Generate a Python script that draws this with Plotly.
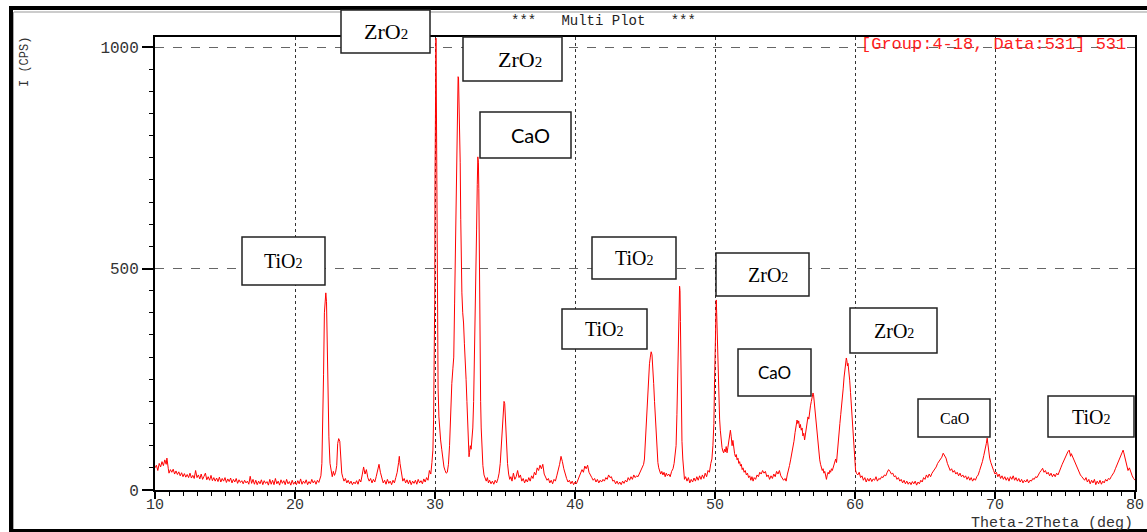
import plotly.graph_objects as go

# ---------------- data (2-theta in deg, intensity in CPS) ----------------
seg_10_22 = [(10.0,50),(10.1,56),(10.2,44),(10.3,60),(10.4,52),(10.5,64),(10.6,55),(10.7,68),(10.8,58),(10.85,72),
             (10.95,48),(11.0,38),(11.1,46),(11.2,40),(11.3,47),(11.4,36),(11.5,43),(11.6,35),(11.7,41),(11.8,32),
             (11.9,39),(12.0,30),(12.1,37),(12.2,29),(12.3,35),(12.4,28),(12.5,38),(12.6,27),(12.7,33),(12.8,26),
             (12.9,44),(13.0,28),(13.1,34),(13.2,25),(13.3,36),(13.4,24),(13.5,31),(13.6,38),(13.7,23),(13.8,30),
             (13.9,22),(14.0,33),(14.1,21),(14.2,28),(14.3,20),(14.4,27),(14.5,19),(14.6,29),(14.7,18),(14.8,26),
             (14.9,20),(15.0,28),(15.1,17),(15.2,25),(15.3,19),(15.4,27),(15.5,16),(15.6,24),(15.7,18),(15.8,26),
             (15.9,15),(16.0,23),(16.1,17),(16.2,21),(16.3,14),(16.4,22),(16.5,16),(16.6,20),(16.7,13),(16.8,31),
             (16.9,15),(17.0,24),(17.1,13),(17.2,22),(17.3,12),(17.4,20),(17.5,14),(17.6,23),(17.7,12),(17.8,21),
             (17.9,15),(18.0,19),(18.1,11),(18.2,24),(18.3,13),(18.4,22),(18.5,12),(18.6,26),(18.7,14),(18.8,20),
             (18.9,11),(19.0,23),(19.1,15),(19.2,21),(19.3,12),(19.4,24),(19.5,14),(19.6,19),(19.7,11),(19.8,22),
             (19.9,13),(20.0,18),(20.1,12),(20.2,21),(20.3,14),(20.4,25),(20.5,13),(20.6,20),(20.7,15),(20.8,23),
             (20.9,12),(21.0,19),(21.1,14),(21.2,24),(21.3,16),(21.4,21),(21.5,13),(21.6,22),(21.7,17),(21.8,25)]

seg_22_30 = [(21.85,32),(21.92,60),(21.98,130),(22.04,260),(22.1,400),(22.15,440),(22.2,445),(22.25,425),(22.3,330),
             (22.36,210),(22.42,120),(22.5,60),(22.58,40),(22.66,30),(22.74,42),(22.82,33),(22.9,40),(22.98,55),
             (23.05,105),(23.12,116),(23.2,110),(23.27,60),(23.34,38),(23.42,28),(23.5,20),(23.6,26),(23.7,16),
             (23.8,22),(23.9,14),(24.0,20),(24.1,12),(24.2,18),(24.3,14),(24.4,21),(24.5,13),(24.6,24),(24.7,18),
             (24.8,34),(24.9,52),(25.0,36),(25.1,46),(25.2,28),(25.3,20),(25.4,26),(25.5,16),(25.6,24),(25.7,18),
             (25.8,30),(25.9,42),(26.0,58),(26.1,40),(26.2,24),(26.3,16),(26.4,22),(26.5,13),(26.6,24),(26.7,15),
             (26.8,20),(26.9,12),(27.0,22),(27.1,16),(27.2,28),(27.3,40),(27.4,62),(27.45,76),(27.5,60),(27.6,36),
             (27.7,20),(27.8,26),(27.9,16),(28.0,23),(28.1,14),(28.2,22),(28.3,12),(28.4,20),(28.5,15),(28.6,22),
             (28.7,13),(28.8,24),(28.9,16),(29.0,21),(29.1,14),(29.2,25),(29.3,18),(29.4,28),(29.5,22),(29.6,44),
             (29.7,36),(29.78,62)]

seg_30_36 = [(29.85,90),(29.9,160),(29.95,280),(29.98,430),(30.0,700),(30.02,910),(30.04,1020),(30.07,1020),
             (30.09,930),(30.12,738),(30.15,520),(30.18,330),(30.22,230),(30.28,165),(30.34,125),(30.4,113),
             (30.48,92),(30.56,70),(30.64,52),(30.72,44),(30.8,38),(30.88,40),(30.96,58),(31.04,100),(31.12,180),
             (31.2,240),(31.28,275),(31.34,300),(31.4,420),(31.46,571),(31.52,700),(31.57,780),(31.61,880),
             (31.65,933),(31.68,930),(31.72,880),(31.76,812),(31.8,740),(31.84,610),(31.88,500),(31.92,445),
             (31.98,400),(32.04,377),(32.1,330),(32.16,300),(32.22,250),(32.28,200),(32.34,140),(32.4,95),
             (32.43,75),(32.47,85),(32.52,100),(32.58,92),(32.64,110),(32.7,140),(32.76,200),(32.82,290),
             (32.87,361),(32.92,460),(32.97,587),(33.02,690),(33.06,752),(33.1,740),(33.13,680),(33.16,520),
             (33.19,436),(33.22,300),(33.26,200),(33.3,140),(33.36,90),(33.42,55),(33.5,34),(33.58,26),(33.66,20),
             (33.74,28),(33.82,16),(33.9,22),(34.0,14),(34.1,20),(34.2,13),(34.3,22),(34.4,16),(34.5,26),(34.58,38),
             (34.66,60),(34.74,105),(34.82,160),(34.88,190),(34.93,200),(34.98,195),(35.04,150),(35.1,105),
             (35.18,60),(35.26,36),(35.34,24),(35.42,30),(35.5,20),(35.6,38),(35.7,24),(35.8,30),(35.9,44),(36.0,28)]

seg_36_50 = [(36.1,34),(36.2,20),(36.3,26),(36.4,16),(36.5,24),(36.6,18),(36.7,28),(36.8,20),(36.9,32),(37.0,26),
             (37.1,40),(37.2,34),(37.3,50),(37.4,44),(37.5,56),(37.6,48),(37.7,58),(37.8,36),(37.9,30),(38.0,22),
             (38.1,26),(38.2,16),(38.3,22),(38.4,14),(38.5,24),(38.6,20),(38.7,32),(38.8,44),(38.9,58),(39.0,76),
             (39.05,72),(39.1,64),(39.2,48),(39.3,34),(39.4,26),(39.5,18),(39.6,22),(39.7,14),(39.8,20),(39.9,12),
             (40.0,18),(40.1,14),(40.2,22),(40.3,28),(40.4,38),(40.5,46),(40.6,40),(40.7,54),(40.8,48),(40.9,56),
             (41.0,40),(41.1,32),(41.2,28),(41.3,22),(41.4,26),(41.5,18),(41.6,24),(41.7,16),(41.8,22),(41.9,18),
             (42.0,24),(42.1,20),(42.2,28),(42.3,24),(42.4,34),(42.5,28),(42.6,30),(42.7,20),(42.8,22),(42.9,14),
             (43.0,20),(43.1,13),(43.2,18),(43.3,12),(43.4,20),(43.5,15),(43.6,22),(43.7,18),(43.8,28),(43.9,22),
             (44.0,30),(44.1,24),(44.2,34),(44.3,28),(44.4,32),(44.5,30),(44.6,38),(44.7,42),(44.8,50),(44.9,58),
             (44.96,70),(45.02,110),(45.08,160),(45.14,200),(45.2,226),(45.26,250),(45.32,285),(45.38,300),
             (45.44,312),(45.5,305),(45.56,280),(45.62,240),(45.68,200),(45.74,160),(45.8,115),(45.86,90),
             (45.92,62),(45.98,50),(46.05,44),(46.12,36),(46.2,42),(46.28,34),(46.36,40),(46.44,30),(46.52,38),
             (46.6,32),(46.7,36),(46.8,30),(46.9,42),(47.0,48),(47.08,60),(47.16,80),(47.22,100),(47.28,170),
             (47.34,260),(47.4,361),(47.44,420),(47.47,460),(47.5,450),(47.53,380),(47.56,270),(47.6,160),
             (47.64,110),(47.7,70),(47.76,40),(47.82,24),(47.9,30),(48.0,20),(48.1,28),(48.2,16),(48.3,24),
             (48.4,18),(48.5,27),(48.6,20),(48.7,30),(48.8,22),(48.9,32),(49.0,24),(49.1,34),(49.2,26),(49.3,38),
             (49.4,30),(49.5,44),(49.6,40),(49.7,60),(49.78,70),(49.85,100),(49.92,150),(49.97,250),(50.01,340),
             (50.05,410),(50.09,429),(50.12,400)]

seg_50_60 = [(50.15,360),(50.2,300),(50.24,248),(50.28,200),(50.33,160),(50.38,135),(50.44,110),(50.5,96),
             (50.56,88),(50.62,84),(50.68,92),(50.74,86),(50.8,98),(50.86,84),(50.92,96),(50.98,110),(51.04,125),
             (51.1,135),(51.16,120),(51.22,100),(51.28,112),(51.34,90),(51.4,82),(51.46,75),(51.52,80),(51.58,68),
             (51.64,72),(51.7,60),(51.76,64),(51.82,54),(51.88,58),(51.94,46),(52.0,50),(52.08,40),(52.16,44),
             (52.24,34),(52.32,38),(52.4,28),(52.48,32),(52.56,22),(52.64,30),(52.72,20),(52.8,28),(52.9,24),
             (53.0,34),(53.1,30),(53.2,40),(53.3,36),(53.4,44),(53.5,38),(53.6,42),(53.7,30),(53.8,34),(53.9,24),
             (54.0,32),(54.1,26),(54.2,36),(54.3,30),(54.4,42),(54.5,36),(54.6,44),(54.7,32),(54.8,28),(54.9,22),
             (55.0,26),(55.08,20),(55.16,34),(55.24,42),(55.32,55),(55.4,68),(55.48,80),(55.56,96),(55.64,110),
             (55.72,130),(55.8,145),(55.86,158),(55.92,150),(55.98,156),(56.04,140),(56.1,148),(56.16,135),
             (56.22,140),(56.28,122),(56.34,128),(56.4,113),(56.46,125),(56.52,140),(56.58,155),(56.64,165),
             (56.7,160),(56.76,180),(56.82,190),(56.88,200),(56.94,212),(57.0,219),(57.04,215),(57.08,200),
             (57.12,185),(57.18,170),(57.24,155),(57.3,130),(57.36,110),(57.42,85),(57.48,68),(57.54,58),
             (57.6,52),(57.66,44),(57.72,48),(57.78,38),(57.84,42),(57.9,30),(57.96,24),(58.02,34),(58.08,40),
             (58.14,36),(58.2,44),(58.26,40),(58.32,48),(58.38,44),(58.44,52),(58.5,56),(58.56,62),(58.62,70),
             (58.68,62),(58.74,80),(58.8,100),(58.86,120),(58.92,150),(58.98,170),(59.04,187),(59.1,205),
             (59.16,230),(59.22,255),(59.28,270),(59.34,290),(59.38,298),(59.42,292),(59.46,280),(59.5,286),
             (59.56,270),(59.62,248),(59.68,220),(59.74,190),(59.8,150),(59.86,135),(59.92,100),(59.98,65),
             (60.04,45)]

seg_60_80 = [(60.1,38),(60.2,34),(60.3,40),(60.4,28),(60.5,32),(60.6,22),(60.7,28),(60.8,18),(60.9,26),(61.0,20),
             (61.1,27),(61.2,19),(61.3,25),(61.4,22),(61.5,30),(61.6,20),(61.7,26),(61.8,24),(61.9,30),(62.0,28),
             (62.1,34),(62.2,32),(62.3,40),(62.4,46),(62.5,42),(62.6,36),(62.7,38),(62.8,30),(62.9,32),(63.0,24),
             (63.1,28),(63.2,20),(63.3,24),(63.4,16),(63.5,22),(63.6,14),(63.7,20),(63.8,13),(63.9,18),(64.0,12),
             (64.1,19),(64.2,14),(64.3,20),(64.4,11),(64.5,18),(64.6,14),(64.7,22),(64.8,18),(64.9,28),(65.0,24),
             (65.1,34),(65.2,28),(65.3,36),(65.4,30),(65.5,38),(65.6,42),(65.7,48),(65.8,52),(65.9,60),(66.0,64),
             (66.1,70),(66.2,74),(66.3,83),(66.4,76),(66.5,72),(66.6,60),(66.7,52),(66.8,44),(66.9,48),(67.0,40),
             (67.1,44),(67.2,36),(67.3,40),(67.4,32),(67.5,38),(67.6,30),(67.7,34),(67.8,28),(67.9,32),(68.0,24),
             (68.1,30),(68.2,22),(68.3,28),(68.4,20),(68.5,26),(68.6,22),(68.7,30),(68.8,34),(68.9,44),(69.0,52),
             (69.1,64),(69.2,78),(69.3,90),(69.38,105),(69.44,117),(69.5,100),(69.56,90),(69.62,72),(69.7,62),
             (69.8,50),(69.9,44),(70.0,36),(70.1,40),(70.2,30),(70.3,36),(70.4,26),(70.5,32),(70.6,24),(70.7,30),
             (70.8,22),(70.9,28),(71.0,20),(71.1,30),(71.2,24),(71.3,32),(71.4,22),(71.5,28),(71.6,20),(71.7,26),
             (71.8,18),(71.9,24),(72.0,16),(72.1,22),(72.2,18),(72.3,24),(72.4,16),(72.5,22),(72.6,20),(72.7,26),
             (72.8,24),(72.9,30),(73.0,28),(73.1,36),(73.2,40),(73.3,44),(73.4,49),(73.5,40),(73.6,44),(73.7,36),
             (73.8,40),(73.9,32),(74.0,38),(74.1,30),(74.2,36),(74.3,30),(74.4,38),(74.5,34),(74.6,44),(74.7,50),
             (74.8,58),(74.9,66),(75.0,72),(75.1,80),(75.2,86),(75.3,90),(75.35,84),(75.4,76),(75.45,82),(75.5,78),
             (75.6,70),(75.7,66),(75.8,56),(75.9,46),(76.0,42),(76.1,34),(76.2,30),(76.3,26),(76.4,22),(76.5,28),
             (76.6,18),(76.7,24),(76.8,14),(76.9,22),(77.0,16),(77.1,24),(77.2,12),(77.3,20),(77.4,14),(77.5,22),
             (77.6,13),(77.7,20),(77.8,16),(77.9,24),(78.0,20),(78.1,26),(78.2,24),(78.3,30),(78.4,34),(78.5,40),
             (78.6,48),(78.7,56),(78.8,66),(78.9,74),(79.0,82),(79.1,88),(79.15,90),(79.2,84),(79.3,70),(79.4,52),
             (79.5,44),(79.6,50),(79.7,38),(79.8,32),(79.9,26),(80.0,22)]

x_tick_vals = [10, 20, 30, 40, 50, 60, 70, 80]
x_tick_text = ["10", "20", "30", "40", "50", "60", "70", "80"]
y_tick_vals = [0, 500, 1000]
y_tick_text = ["0", "500", "1000"]

phase_names = ["ZrO", "ZrO", "CaO", "TiO", "TiO", "TiO", "ZrO", "CaO", "ZrO", "CaO", "TiO"]
phase_subs = ["2", "2", "", "2", "2", "2", "2", "", "2", "", "2"]

# ---------------- assemble ----------------
segments = [seg_10_22, seg_22_30, seg_30_36, seg_36_50, seg_50_60, seg_60_80]
two_theta = [p[0] for s in segments for p in s]
cps = [p[1] for s in segments for p in s]

W, H = 1147, 532
ML, MR, MT, MB = 155, 12, 37, 42
PW, PH = W - ML - MR, H - MT - MB


def fx(px):
    return (px - ML) / PW


def fy(py):
    return (H - MB - py) / PH


fig = go.Figure()
fig.add_trace(go.Scatter(x=two_theta, y=cps, mode="lines",
                         line=dict(color="#ff0000", width=1), showlegend=False, hoverinfo="skip"))

mono = "Liberation Mono, Courier New, monospace"
serif = "Liberation Serif, Times New Roman, serif"
sans = "Lato, Liberation Sans, sans-serif"

# box geometry in pixels: left, top, right, bottom, font family, font size, text x-shift
box_geom = [
    (341, 10, 430, 53, serif, 22, 0),
    (463, 37, 562, 81, serif, 22, 7),
    (480, 112, 571, 158, sans, 20, 5),
    (242, 237, 325, 285, serif, 20, 0),
    (592, 237, 676, 279, serif, 20, 0),
    (562, 309, 647, 349, serif, 20, 0),
    (716, 253, 809, 296, serif, 20, 5),
    (738, 349, 811, 396, sans, 17, 0),
    (850, 308, 937, 353, serif, 20, 0),
    (918, 399, 990, 437, serif, 16, 0),
    (1048, 396, 1134, 437, serif, 20, 0),
]

annotations = []
shapes = []
bw = 1.5
for name, sub, (l, t, r, b, fam, fs, dx) in zip(phase_names, phase_subs, box_geom):
    shapes.append(dict(type="rect", xref="paper", yref="paper", x0=fx(l), x1=fx(r), y0=fy(b), y1=fy(t),
                       line=dict(color="#222", width=bw), fillcolor="white", layer="above"))
    txt = name if not sub else name + '<span style="font-size:%dpx">%s</span>' % (int(fs * 0.72), sub)
    annotations.append(dict(
        xref="paper", yref="paper", x=fx((l + r) / 2 + dx), y=fy((t + b) / 2), xanchor="center", yanchor="middle",
        text=txt, showarrow=False, font=dict(family=fam, size=fs, color="black")))

# x tick labels placed along the x axis (data coordinates), just under the ticks
for tv, tt in zip(x_tick_vals, x_tick_text):
    annotations.append(dict(xref="x", yref="paper", x=tv, y=fy(505.5), text=tt, showarrow=False,
                            xanchor="center", yanchor="middle", font=dict(family=mono, size=15, color="#333")))

annotations += [
    dict(xref="paper", yref="paper", x=fx(603), y=fy(21), text="***   Multi Plot   ***", showarrow=False,
         xanchor="center", yanchor="middle", font=dict(family=mono, size=14, color="#222")),
    dict(xref="paper", yref="paper", x=fx(1128), y=fy(45), text="[Group:4-18, Data:531] 531", showarrow=False,
         xanchor="right", yanchor="middle", font=dict(family=mono, size=17, color="#ff2020")),
    dict(xref="paper", yref="paper", x=fx(25), y=fy(62), text="I (CPS)", showarrow=False, textangle=-90,
         xanchor="center", yanchor="middle", font=dict(family=mono, size=12, color="#333")),
    dict(xref="paper", yref="paper", x=fx(1135), y=fy(523.5), text="Theta-2Theta (deg)", showarrow=False,
         xanchor="right", yanchor="middle", font=dict(family=mono, size=15, color="#333")),
]

# outer picture frame (kept inside the figure area)
shapes += [
    dict(type="line", xref="paper", yref="paper", x0=fx(9), x1=fx(1147), y0=fy(8), y1=fy(8),
         line=dict(color="black", width=4), layer="below"),
    dict(type="line", xref="paper", yref="paper", x0=fx(14), x1=fx(1147), y0=fy(12), y1=fy(12),
         line=dict(color="#999", width=1), layer="below"),
    dict(type="line", xref="paper", yref="paper", x0=fx(11), x1=fx(11), y0=fy(6), y1=fy(532),
         line=dict(color="black", width=4), layer="below"),
    dict(type="line", xref="paper", yref="paper", x0=fx(13.5), x1=fx(13.5), y0=fy(12), y1=fy(529),
         line=dict(color="#aaa", width=1), layer="below"),
    dict(type="line", xref="paper", yref="paper", x0=fx(9), x1=fx(1147), y0=fy(530.5), y1=fy(530.5),
         line=dict(color="black", width=3), layer="below"),
]

fig.update_layout(
    width=W, height=H, margin=dict(l=ML, r=MR, t=MT, b=MB, pad=0, autoexpand=False),
    paper_bgcolor="white", plot_bgcolor="white",
    annotations=annotations, shapes=shapes,
    xaxis=dict(range=[10, 80], tickvals=x_tick_vals, showticklabels=False, automargin=False,
               showline=True, mirror=True, linecolor="black", linewidth=2,
               ticks="outside", ticklen=7, tickwidth=1.5, tickcolor="black",
               minor=dict(dtick=1, ticklen=4, tickwidth=1, tickcolor="black", showgrid=False),
               showgrid=True, gridcolor="#333", griddash="dot", gridwidth=1, zeroline=False),
    yaxis=dict(range=[0, 1000 * PH / 443], tickvals=y_tick_vals, ticktext=y_tick_text, automargin=False,
               showline=True, mirror=True, linecolor="black", linewidth=2,
               ticks="outside", ticklen=11, tickwidth=1.5, tickcolor="black",
               minor=dict(dtick=50, ticklen=4, tickwidth=1, tickcolor="black", showgrid=False),
               showgrid=True, gridcolor="#666", griddash="dash", gridwidth=1,
               zeroline=False, tickfont=dict(family=mono, size=16, color="#333")),
)

fig.write_html("out.html")
